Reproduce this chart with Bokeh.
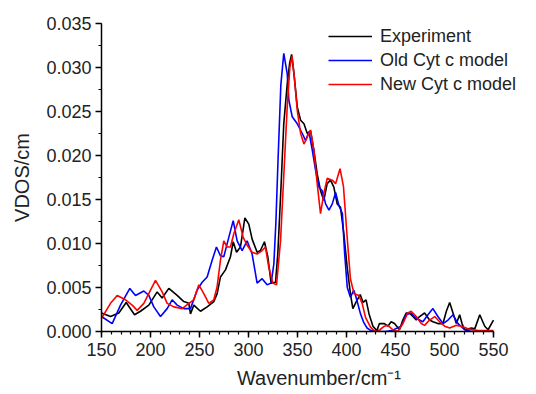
from bokeh.plotting import figure
from bokeh.models import (Range1d, SingleIntervalTicker, NumeralTickFormatter,
                          Legend, LegendItem)
from bokeh.embed import file_html
from bokeh.resources import INLINE

# Experiment
exp_x = [150, 159.2, 167.7, 175.2, 183.7, 189.8, 198.3, 206.8, 211.9, 218.7, 227.2, 234, 239.1,
         240.8, 244.2, 251, 257.8, 264.6, 268, 271.4, 276.5, 281.6, 284.4, 287.8, 291.8, 296.3,
         300.3, 303.7, 308.8, 312.2, 316.3, 319.7, 323.1, 327.6, 330, 333, 336, 339.5, 342, 344,
         346.4, 349.8, 353.2, 356.6, 360, 363.3, 366.7, 370.1, 373.5, 376.9, 380.3, 383.7, 387.1,
         390.5, 393.9, 397.3, 400.7, 404, 406.5, 410, 414, 417, 420, 423, 427, 431, 433.6, 438.7,
         442.2, 445.6, 449, 454.1, 457.5, 460.9, 464.3, 467.7, 471.2, 474.6, 479.7, 484.8, 488.2,
         493.3, 498.5, 501.9, 505.3, 508.7, 512.1, 515.5, 517.9, 520.6, 527.5, 530.9, 536, 541.1,
         544.5, 550]
exp_y = [0.0021, 0.0017, 0.0021, 0.0033, 0.0019, 0.0023, 0.003, 0.0045, 0.0038, 0.0049, 0.0041,
         0.0034, 0.0032, 0.002, 0.003, 0.0023, 0.0028, 0.0034, 0.0043, 0.0062, 0.007, 0.0085,
         0.0102, 0.009, 0.0096, 0.0129, 0.0122, 0.0105, 0.009, 0.0092, 0.0102, 0.0085, 0.0055,
         0.0056, 0.009, 0.016, 0.0236, 0.0281, 0.0305, 0.0315, 0.0293, 0.0255, 0.024, 0.0236,
         0.0225, 0.0228, 0.0206, 0.0179, 0.016, 0.0149, 0.0168, 0.0172, 0.0164, 0.0145, 0.0141,
         0.0111, 0.0073, 0.0043, 0.0026, 0.0034, 0.0042, 0.0033, 0.0036, 0.002, 0.0006, 0.0001,
         0.0009, 0.0009, 0.0006, 0.0011, 0.0009, 0.0002, 0.0013, 0.0021, 0.0021, 0.0017, 0.0013,
         0.0017, 0.0021, 0.0013, 0.0011, 0.0009, 0.0009, 0.0023, 0.0033, 0.0021, 0.0009, 0.0019,
         0.0009, 0.0002, 0.0004, 0.0003, 0.0019, 0.0006, 0.0002, 0.0013]

# Old Cyt c model
old_x = [150, 160.9, 169.4, 178.9, 184.7, 193.2, 198.3, 203.4, 210.2, 217, 222.1, 227.2, 234,
         240.8, 247.6, 252.7, 257.8, 262.9, 267.3, 271.4, 274.8, 279.9, 284.4, 288.4, 293.5,
         298.6, 303.7, 308.8, 313.9, 319, 323.1, 325.9, 328, 330, 333, 336, 339.5, 341.2, 344.6,
         349.8, 354.9, 358.3, 361.7, 365.1, 368.5, 371.9, 375.3, 378.7, 382.1, 385.5, 388.9,
         392.3, 395.8, 398.1, 400.8, 404, 407.5, 410, 414.3, 417.7, 421, 425, 430, 440, 446,
         455.8, 460.9, 466, 471.2, 478, 483.1, 488.2, 493.3, 498.5, 503.6, 508.7, 513.8, 520.6,
         527.5, 550]
old_y = [0.0017, 0.0009, 0.003, 0.0049, 0.0041, 0.0046, 0.0041, 0.0028, 0.0017, 0.0026, 0.0036,
         0.003, 0.0026, 0.0026, 0.0047, 0.0056, 0.0062, 0.0081, 0.0096, 0.0086, 0.0085, 0.0107,
         0.0126, 0.0103, 0.0092, 0.0103, 0.0088, 0.0055, 0.006, 0.0053, 0.0055, 0.0077, 0.0125,
         0.019, 0.028, 0.0316, 0.0293, 0.0263, 0.0244, 0.0236, 0.0225, 0.0217, 0.0227, 0.0206,
         0.0183, 0.0164, 0.016, 0.0145, 0.0138, 0.0145, 0.0158, 0.0143, 0.0134, 0.0089, 0.005,
         0.0039, 0.0047, 0.0038, 0.002, 0.001, 0.0004, 0.0001, 0.0, 0.0, 0.0001, 0.0006, 0.0019,
         0.0021, 0.0015, 0.0011, 0.0019, 0.0026, 0.0017, 0.0009, 0.0013, 0.0019, 0.0009, 0.0002,
         0.0, 0.0]

# New Cyt c model
new_x = [150, 159.2, 166, 174.5, 181.3, 186.4, 193.2, 200, 205.1, 211.9, 217, 223.8, 232.3,
         239.1, 244.2, 249.3, 254.4, 259.5, 264.6, 268, 271.4, 274.8, 278.2, 281.6, 285, 290.1,
         294.6, 298.6, 303.7, 308.8, 313.9, 317.3, 320.7, 324.8, 328.6, 332.7, 336.1, 339.5,
         342.2, 344.5, 347.1, 349.8, 353.2, 356.6, 360, 363.3, 366.7, 370.1, 373.5, 376.9, 380.3,
         385.5, 388.9, 393.4, 396.9, 400.5, 404, 407.7, 412.6, 416, 419.4, 424.5, 428, 431, 434,
         438.7, 442.2, 447.3, 452.4, 457.5, 462.6, 466, 471.2, 476.3, 479.7, 484.8, 490, 495,
         500.2, 505.3, 512.1, 517.2, 524, 534.3, 550]
new_y = [0.0015, 0.0032, 0.0041, 0.0036, 0.003, 0.0024, 0.0032, 0.0047, 0.0058, 0.0045, 0.0032,
         0.0028, 0.0026, 0.0032, 0.0036, 0.0053, 0.0043, 0.0032, 0.0036, 0.0051, 0.0081, 0.0103,
         0.0096, 0.0096, 0.0111, 0.0127, 0.0107, 0.0098, 0.009, 0.0088, 0.0092, 0.0096, 0.0073,
         0.0055, 0.0053, 0.0103, 0.0179, 0.0255, 0.03, 0.0313, 0.0285, 0.0251, 0.0225, 0.0213,
         0.0221, 0.0229, 0.0206, 0.0168, 0.0134, 0.0157, 0.0174, 0.0172, 0.0168, 0.0185, 0.0165,
         0.011, 0.006, 0.0043, 0.0041, 0.0032, 0.0016, 0.0005, 0.0001, 0.0, 0.0002, 0.0006,
         0.0007, 0.0002, 0.0, 0.0009, 0.0021, 0.0023, 0.0017, 0.0009, 0.0007, 0.0013, 0.0017,
         0.0011, 0.0006, 0.0004, 0.0007, 0.0006, 0.0003, 0.0001, 0.0001]

labels = ["Experiment", "Old Cyt c model", "New Cyt c model"]
colors = ["#000000", "#0000ff", "#ff0000"]

FONT = "Liberation Sans"

# x-range is wider than the axis so the legend (which sits beyond x=550) is not clipped
p = figure(width=536, height=394, output_backend="svg", toolbar_location=None,
           x_range=Range1d(150, 593.9), y_range=Range1d(0, 0.035),
           min_border_left=101, min_border_right=0, min_border_top=23, min_border_bottom=63)
p.outline_line_color = None
p.xgrid.visible = False
p.ygrid.visible = False
p.background_fill_color = "white"
p.border_fill_color = "white"

r_exp = p.line(exp_x, exp_y, line_color=colors[0], line_width=1.6)
r_old = p.line(old_x, old_y, line_color=colors[1], line_width=1.6)
r_new = p.line(new_x, new_y, line_color=colors[2], line_width=1.6)

p.xaxis.ticker = SingleIntervalTicker(interval=50, num_minor_ticks=5)
p.xaxis.bounds = (150, 550)
p.yaxis.ticker = SingleIntervalTicker(interval=0.005, num_minor_ticks=2)
p.yaxis.formatter = NumeralTickFormatter(format="0.000")

for ax in (p.xaxis[0], p.yaxis[0]):
    ax.axis_line_width = 1.5
    ax.axis_line_color = "black"
    ax.major_tick_line_width = 1.5
    ax.minor_tick_line_width = 1.2
    ax.major_tick_line_color = "black"
    ax.minor_tick_line_color = "black"
    ax.major_tick_in = 0
    ax.major_tick_out = 6
    ax.minor_tick_in = 0
    ax.minor_tick_out = 3
    ax.major_label_text_font = FONT
    ax.major_label_text_font_size = "18px"
    ax.major_label_text_color = "#222222"
    ax.axis_label_text_font = FONT
    ax.axis_label_text_font_size = "20px"
    ax.axis_label_text_font_style = "normal"
    ax.axis_label_text_color = "#222222"

p.xaxis.axis_label = "Wavenumber/cm\u207b\u00b9"
p.yaxis.axis_label = "VDOS/cm"
p.xaxis.major_label_standoff = 5
p.yaxis.major_label_standoff = 4
p.xaxis.axis_label_standoff = 8
p.yaxis.axis_label_standoff = 10

legend = Legend(items=[LegendItem(label=labels[0], renderers=[r_exp]),
                       LegendItem(label=labels[1], renderers=[r_old]),
                       LegendItem(label=labels[2], renderers=[r_new])],
                location=(227, 235))
legend.border_line_color = None
legend.background_fill_alpha = 0
legend.padding = 0
legend.margin = 0
legend.spacing = 0
legend.glyph_width = 44
legend.glyph_height = 24
legend.label_height = 24
legend.label_standoff = 8
legend.label_text_font = FONT
legend.label_text_font_size = "18px"
legend.label_text_color = "#222222"
p.add_layout(legend, "center")

open("out.html", "w").write(file_html(p, INLINE))
